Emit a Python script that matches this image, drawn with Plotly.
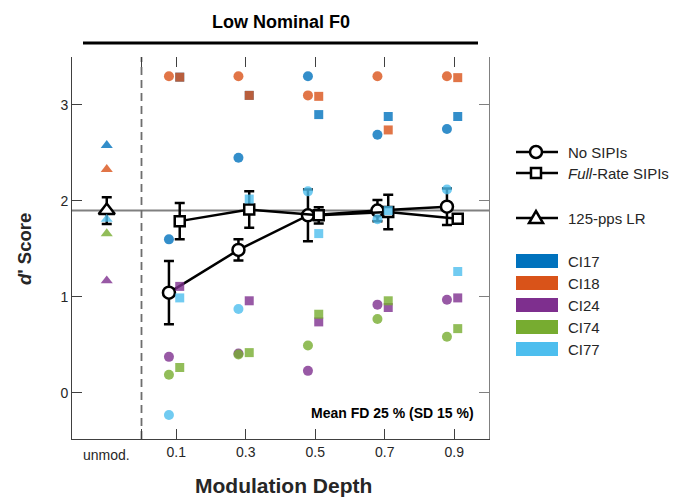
import plotly.graph_objects as go

# ---------------- data ----------------
depths = [0.1, 0.3, 0.5, 0.7, 0.9]
depth_labels = ["0.1", "0.3", "0.5", "0.7", "0.9"]
subjects = ["CI17", "CI18", "CI24", "CI74", "CI77"]
subject_colors = ["#0072BD", "#D95319", "#7E2F8E", "#77AC30", "#4DBEEE"]

# No SIPIs (circles), per subject
nosipi_ci17 = [1.60, 2.45, 3.30, 2.69, 2.75]
nosipi_ci18 = [3.30, 3.30, 3.10, 3.30, 3.30]
nosipi_ci24 = [0.376, 0.41, 0.23, 0.92, 0.97]
nosipi_ci74 = [0.19, 0.40, 0.495, 0.77, 0.585]
nosipi_ci77 = [-0.23, 0.875, 2.10, 1.81, 2.12]

# Full-Rate SIPIs (squares), per subject
full_ci17 = [3.29, 3.10, 2.90, 2.88, 2.88]
full_ci18 = [3.29, 3.10, 3.09, 2.74, 3.285]
full_ci24 = [1.11, 0.96, 0.74, 0.89, 0.99]
full_ci74 = [0.265, 0.42, 0.82, 0.96, 0.67]
full_ci77 = [0.99, 2.02, 1.66, 1.90, 1.265]

# 125-pps LR (unmodulated), per subject
lr_values = [2.58, 2.33, 1.17, 1.66, 1.81]

# group means and error bars
nosipi_mean = [1.045, 1.49, 1.85, 1.90, 1.94]
nosipi_err = [0.33, 0.11, 0.27, 0.11, 0.19]
full_mean = [1.79, 1.91, 1.85, 1.885, 1.815]
full_err = [0.19, 0.19, 0.085, 0.18, 0.03]
lr_mean = 1.90
lr_err = 0.14

unmod_x = -0.1
circle_offset = -0.021
square_offset = 0.01

FONT = "Liberation Sans, Arial, Helvetica, sans-serif"
TXT = "#262626"


def rgba(hexc, a):
    h = hexc.lstrip("#")
    r, g, b = int(h[0:2], 16), int(h[2:4], 16), int(h[4:6], 16)
    return f"rgba({r},{g},{b},{a})"


fig = go.Figure()

# mean lines (drawn beneath individual points)
fig.add_trace(go.Scatter(
    x=[d + circle_offset for d in depths], y=nosipi_mean,
    mode="lines+markers",
    line=dict(color="black", width=2.5),
    marker=dict(symbol="circle", size=12, color="white",
                line=dict(color="black", width=2.5)),
    error_y=dict(type="data", array=nosipi_err, color="black",
                 thickness=2.5, width=5),
    showlegend=False, hoverinfo="skip"))

fig.add_trace(go.Scatter(
    x=[d + square_offset for d in depths], y=full_mean,
    mode="lines+markers",
    line=dict(color="black", width=2.5),
    marker=dict(symbol="square", size=10, color="white",
                line=dict(color="black", width=2.5)),
    error_y=dict(type="data", array=full_err, color="black",
                 thickness=2.5, width=5),
    showlegend=False, hoverinfo="skip"))

fig.add_trace(go.Scatter(
    x=[unmod_x], y=[lr_mean],
    mode="markers",
    marker=dict(symbol="triangle-up", size=14, color="white",
                line=dict(color="black", width=2.5)),
    error_y=dict(type="data", array=[lr_err], color="black",
                 thickness=2.5, width=5),
    showlegend=False, hoverinfo="skip"))

# individual subjects
nosipi_all = [nosipi_ci17, nosipi_ci18, nosipi_ci24, nosipi_ci74, nosipi_ci77]
full_all = [full_ci17, full_ci18, full_ci24, full_ci74, full_ci77]

for subj, col, lr, ns, fr in zip(subjects, subject_colors, lr_values,
                                 nosipi_all, full_all):
    c = rgba(col, 0.8)
    fig.add_trace(go.Scatter(
        x=[unmod_x], y=[lr], mode="markers",
        marker=dict(symbol="triangle-up", size=10.5, color=c, line=dict(width=0)),
        showlegend=False, name=subj))
    fig.add_trace(go.Scatter(
        x=[d + circle_offset for d in depths], y=ns, mode="markers",
        marker=dict(symbol="circle", size=10, color=c, line=dict(width=0)),
        showlegend=False, name=subj))
    fig.add_trace(go.Scatter(
        x=[d + square_offset for d in depths], y=fr, mode="markers",
        marker=dict(symbol="square", size=9, color=c, line=dict(width=0)),
        showlegend=False, name=subj))

# ---------------- layout ----------------
L, R, T, B = 72, 188, 57, 59
W, H = 677, 498
pw, ph = W - L - R, H - T - B


def px_x(px):
    return (px - L) / pw


def px_y(py):
    return (H - B - py) / ph


shapes = []
# reference line for LR mean
shapes.append(dict(type="line", xref="paper", x0=0, x1=1, yref="y",
                   y0=lr_mean, y1=lr_mean,
                   line=dict(color="#808080", width=2), layer="below"))
# dashed separator
shapes.append(dict(type="line", xref="x", x0=0, x1=0, yref="paper",
                   y0=0, y1=1, line=dict(color="#6e6e6e", width=1.8,
                                         dash="8px,5px"), layer="below"))
# title underline
shapes.append(dict(type="line", xref="paper", yref="paper",
                   x0=px_x(83), x1=px_x(478), y0=px_y(43), y1=px_y(43),
                   line=dict(color="black", width=3)))

annotations = []
annotations.append(dict(text="<b>Low Nominal F0</b>", xref="paper", yref="paper",
                        x=px_x(281), y=px_y(22), xanchor="center", yanchor="middle",
                        showarrow=False, font=dict(size=18, color="black", family=FONT)))
annotations.append(dict(text="<b>Modulation Depth</b>", xref="paper", yref="paper",
                        x=px_x(283), y=px_y(485), xanchor="center", yanchor="middle",
                        showarrow=False, font=dict(size=21, color=TXT, family=FONT)))
annotations.append(dict(text="<b><i>d</i>' Score</b>", xref="paper", yref="paper",
                        x=px_x(24), y=px_y(249), xanchor="center", yanchor="middle",
                        textangle=-90, showarrow=False,
                        font=dict(size=18.5, color=TXT, family=FONT)))
annotations.append(dict(text="unmod.", xref="x", yref="paper",
                        x=unmod_x, y=px_y(455), xanchor="center", yanchor="middle",
                        showarrow=False, font=dict(size=14, color=TXT, family=FONT)))
annotations.append(dict(text="<b>Mean FD 25 % (SD 15 %)</b>", xref="paper", yref="paper",
                        x=px_x(476), y=px_y(413), xanchor="right", yanchor="middle",
                        showarrow=False, font=dict(size=14, color="black", family=FONT)))

# custom legend
lx0, lx1, lxm, ltx = px_x(516), px_x(558), px_x(536), px_x(566)
leg_rows = [("No SIPIs", 152, "circle"),
            ("<i>Full</i>-Rate SIPIs", 173, "square"),
            ("125-pps LR", 218, "triangle")]
for label, py, sym in leg_rows:
    yy = px_y(py)
    shapes.append(dict(type="line", xref="paper", yref="paper", x0=lx0, x1=lx1,
                       y0=yy, y1=yy, line=dict(color="black", width=2.5)))
    common = dict(xref="paper", yref="paper", xsizemode="pixel", ysizemode="pixel",
                  xanchor=lxm, yanchor=yy, fillcolor="white",
                  line=dict(color="black", width=2.5))
    if sym == "circle":
        shapes.append(dict(type="circle", x0=-6, x1=6, y0=-6, y1=6, **common))
    elif sym == "square":
        shapes.append(dict(type="rect", x0=-5, x1=5, y0=-5, y1=5, **common))
    else:
        shapes.append(dict(type="path", path="M -7,-5 L 7,-5 L 0,7 Z", **common))
    annotations.append(dict(text=label, xref="paper", yref="paper", x=ltx, y=yy,
                            xanchor="left", yanchor="middle", showarrow=False,
                            font=dict(size=15, color=TXT, family=FONT)))

patch_rows = [261, 283, 305, 327, 349]
for subj, col, py in zip(subjects, subject_colors, patch_rows):
    shapes.append(dict(type="rect", xref="paper", yref="paper", x0=lx0, x1=lx1,
                       y0=px_y(py + 7), y1=px_y(py - 7), fillcolor=col,
                       line=dict(width=0)))
    annotations.append(dict(text=subj, xref="paper", yref="paper", x=ltx, y=px_y(py),
                            xanchor="left", yanchor="middle", showarrow=False,
                            font=dict(size=15, color=TXT, family=FONT)))

tick_vals = [0.0] + depths
tick_text = [""] + depth_labels

fig.update_layout(
    width=W, height=H,
    margin=dict(l=L, r=R, t=T, b=B, pad=0),
    paper_bgcolor="white", plot_bgcolor="white",
    font=dict(family=FONT, color=TXT, size=14),
    showlegend=False,
    shapes=shapes, annotations=annotations,
    xaxis=dict(range=[-0.2, 1.0], tickvals=tick_vals, ticktext=tick_text,
               ticks="inside", ticklen=10, tickwidth=1, tickcolor="#404040",
               showline=True, linecolor="#404040", linewidth=1,
               showgrid=False, zeroline=False,
               tickfont=dict(size=14, color=TXT)),
    xaxis2=dict(range=[-0.2, 1.0], overlaying="x", side="top", anchor="y",
                tickvals=tick_vals, ticks="inside", ticklen=10, tickwidth=1,
                tickcolor="#404040", showticklabels=False, showline=False,
                showgrid=False, zeroline=False),
    yaxis=dict(range=[-0.48, 3.5], tickvals=[0, 1, 2, 3],
               ticks="inside", ticklen=10, tickwidth=1, tickcolor="#404040",
               showline=True, linecolor="#404040", linewidth=1,
               showgrid=False, zeroline=False,
               tickfont=dict(size=14, color=TXT)),
    yaxis2=dict(range=[-0.48, 3.5], overlaying="y", side="right", anchor="x",
                tickvals=[0, 1, 2, 3], ticks="inside", ticklen=10, tickwidth=1,
                tickcolor="#808080", showticklabels=False, showline=True,
                linecolor="#808080", linewidth=1, showgrid=False, zeroline=False),
)

# invisible trace so the overlay axes are rendered
fig.add_trace(go.Scatter(x=[None], y=[None], xaxis="x2", yaxis="y2",
                         showlegend=False, hoverinfo="skip"))

fig.write_html("out.html")
